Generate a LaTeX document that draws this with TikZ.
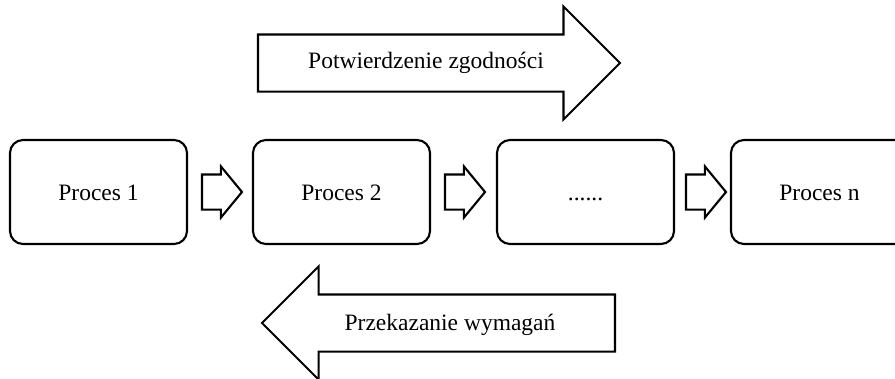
\documentclass[tikz,border=0pt]{standalone}
\usepackage{fontspec}
\setmainfont{Liberation Serif}
\usetikzlibrary{positioning,shapes.arrows}

\begin{document}
\begin{tikzpicture}[
		x=1pt,y=-1pt,
		procbox/.style={draw,line width=2.1pt,rounded corners=13pt,minimum width=177pt,minimum height=104pt,inner sep=0pt,outer sep=0pt,text height=16pt,text depth=0pt,font=\fontsize{23.5}{28}\selectfont},
		bigarrow/.style={draw,line width=2.1pt,single arrow,single arrow head extend=28pt,single arrow tip angle=90,inner xsep=0pt,inner ysep=27.5pt,outer sep=0pt},
		smallarrow/.style={draw,line width=2.1pt,single arrow,single arrow head extend=8pt,single arrow tip angle=101,minimum height=40pt,inner xsep=0pt,inner ysep=16.5pt,outer sep=0pt},
		arrow text/.style={text height=16pt,text depth=0pt,inner sep=0pt,font=\fontsize{23.5}{28}\selectfont}
	]
		\useasboundingbox (0,0) rectangle (895,378);

		% Chain of processes.
		\node[procbox] (p1) at (98.5,192) {Proces 1};
		\node[procbox,right=66pt of p1] (p2) {Proces 2};
		\node[procbox,right=67pt of p2] (p3) {......};
		\node[procbox,right=57pt of p3] (pn) {Proces n};

		% Block arrows between neighbouring processes.
		\node[smallarrow,anchor=tail] (a1) at ([xshift=15pt]p1.east) {};
		\node[smallarrow,anchor=tail] (a2) at ([xshift=15pt]p2.east) {};
		\node[smallarrow,anchor=tail] (a3) at ([xshift=12pt]p3.east) {};

		% Feedback flow above and requirement flow below.
		\node[bigarrow,minimum height=362pt,anchor=tail] (agree) at (258,63) {};
		\node[arrow text] (agreetext) at (426,60) {Potwierdzenie zgodności};
		\node[bigarrow,minimum height=353pt,shape border rotate=180,anchor=tail] (req) at (615,323) {};
		\node[arrow text] (reqtext) at (450,322) {Przekazanie wymagań};
	\end{tikzpicture}
\end{document}
